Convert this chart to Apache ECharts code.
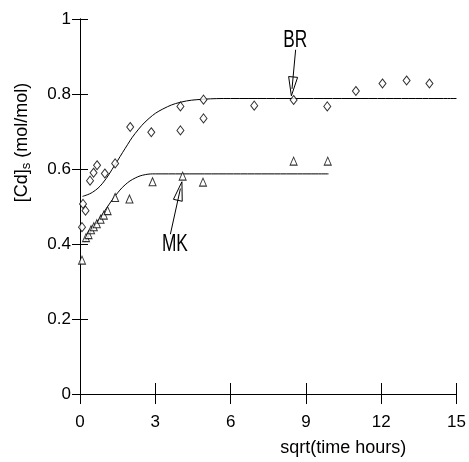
<!DOCTYPE html>
<html>
<head>
<meta charset="utf-8">
<script src="https://cdn.jsdelivr.net/npm/echarts@6/dist/echarts.min.js"></script>
<style>
html,body{margin:0;padding:0;background:#fff;}
#c{width:469px;height:462px;}
</style>
</head>
<body>
<div id="c"></div>
<script>
// ---- data ----
const xTicks = [0, 3, 6, 9, 12, 15];
const yTicks = [0, 0.2, 0.4, 0.6, 0.8, 1];

const brPoints = [
  [0.08, 0.445], [0.12, 0.507], [0.22, 0.489], [0.40, 0.569], [0.54, 0.590],
  [0.68, 0.610], [0.99, 0.588], [1.40, 0.615], [2.00, 0.712], [2.84, 0.698],
  [4.00, 0.767], [4.00, 0.703], [4.92, 0.785], [4.92, 0.735], [6.94, 0.769],
  [8.51, 0.784], [9.85, 0.767], [10.99, 0.808], [12.05, 0.828], [13.01, 0.836],
  [13.92, 0.828]
];
const mkPoints = [
  [0.08, 0.357], [0.24, 0.417], [0.34, 0.425], [0.44, 0.438], [0.55, 0.446],
  [0.67, 0.454], [0.82, 0.466], [0.95, 0.477], [1.10, 0.489], [1.40, 0.524],
  [1.97, 0.520], [2.89, 0.566], [4.09, 0.581], [4.90, 0.565], [8.51, 0.621],
  [9.87, 0.621]
];
const brCurve = [
  [0.10, 0.527], [0.50, 0.538], [0.90, 0.562], [1.40, 0.612], [1.80, 0.655],
  [2.20, 0.695], [2.75, 0.735], [3.30, 0.760], [4.00, 0.778], [4.90, 0.786],
  [6.00, 0.788], [15.0, 0.788]
];
const mkCurve = [
  [0.20, 0.405], [0.50, 0.440], [1.00, 0.490], [1.40, 0.528], [1.80, 0.558],
  [2.20, 0.576], [2.60, 0.585], [3.00, 0.587], [9.90, 0.587]
];
const labelNames = ['BR', 'MK'];
const labelAt = [[8.57, 0.942], [3.78, 0.399]];
const arrowTail = [[8.59, 0.918], [3.60, 0.426]];
const arrowTip = [[8.42, 0.795], [4.06, 0.566]];

// ---- chart ----
const FONT = "'Liberation Sans',Arial,sans-serif";
const chart = echarts.init(document.getElementById('c'), null, {renderer: 'canvas'});

const axisBase = {
  type: 'value',
  axisLine: {show: true, lineStyle: {color: '#000', width: 1}},
  splitLine: {show: false}
};

chart.setOption({
  animation: false,
  backgroundColor: '#fff',
  grid: {left: 80, right: 10, top: 19, bottom: 65},
  xAxis: [
    Object.assign({}, axisBase, {
      min: xTicks[0], max: xTicks[xTicks.length - 1], interval: 3,
      position: 'bottom',
      axisTick: {show: true, inside: false, length: 10, lineStyle: {color: '#000'}},
      axisLabel: {color: '#000', fontFamily: FONT, fontSize: 17, margin: 20},
      name: 'sqrt(time hours)', nameLocation: 'middle', nameGap: 45,
      nameTextStyle: {color: '#000', fontFamily: FONT, fontSize: 18, padding: [0, 0, 0, 150]}
    }),
    Object.assign({}, axisBase, {
      min: xTicks[0], max: xTicks[xTicks.length - 1], interval: 3,
      position: 'top',
      axisTick: {show: true, inside: false, length: 11, lineStyle: {color: '#000'}},
      axisLabel: {show: false}
    })
  ],
  yAxis: [
    Object.assign({}, axisBase, {
      min: yTicks[0], max: yTicks[yTicks.length - 1], interval: 0.2,
      position: 'left',
      axisTick: {show: true, inside: false, length: 8, lineStyle: {color: '#000'}},
      axisLabel: {color: '#000', fontFamily: FONT, fontSize: 17, margin: 9},
      name: '{a|[Cd]}{s|s}{a| (mol/mol)}', nameLocation: 'middle', nameGap: 47, nameRotate: 90,
      nameTextStyle: {
        color: '#000',
        padding: [0, 0, 0, 128],
        rich: {
          a: {fontFamily: FONT, fontSize: 18, color: '#000'},
          s: {fontFamily: FONT, fontSize: 13, color: '#000', verticalAlign: 'bottom', padding: [8, 0, 0, 0]}
        }
      }
    }),
    Object.assign({}, axisBase, {
      min: yTicks[0], max: yTicks[yTicks.length - 1], interval: 0.2,
      position: 'right',
      axisTick: {show: true, inside: false, length: 8, lineStyle: {color: '#000'}},
      axisLabel: {show: false}
    })
  ],
  series: [
    {type: 'line', data: brCurve, smooth: 0.4, showSymbol: false, symbol: 'none',
     lineStyle: {color: '#000', width: 1}, z: 2},
    {type: 'line', data: mkCurve, smooth: 0.4, showSymbol: false, symbol: 'none',
     lineStyle: {color: '#000', width: 1}, z: 2},
    {type: 'scatter', data: brPoints, symbol: 'diamond', symbolSize: [7, 9],
     itemStyle: {color: '#fff', borderColor: '#000', borderWidth: 1}, z: 3},
    {type: 'scatter', data: mkPoints, symbol: 'triangle', symbolSize: [7, 8],
     itemStyle: {color: '#fff', borderColor: '#000', borderWidth: 1}, z: 3}
  ]
});

// annotations anchored in data coordinates
const graphics = [];
for (let i = 0; i < labelNames.length; i++) {
  const lp = chart.convertToPixel({gridIndex: 0}, labelAt[i]);
  graphics.push({
    type: 'text', x: lp[0], y: lp[1], z: 10, scaleX: 0.72,
    style: {text: labelNames[i], font: "24px " + FONT, fill: '#000', align: 'center', verticalAlign: 'middle'}
  });
  const p0 = chart.convertToPixel({gridIndex: 0}, arrowTail[i]);
  const p1 = chart.convertToPixel({gridIndex: 0}, arrowTip[i]);
  const dx = p1[0] - p0[0], dy = p1[1] - p0[1];
  const len = Math.sqrt(dx * dx + dy * dy);
  const ux = dx / len, uy = dy / len, nx = -uy, ny = ux;
  const L = 19, W = 4.5;
  const bx = p1[0] - ux * L, by = p1[1] - uy * L;
  graphics.push({
    type: 'line', z: 10,
    shape: {x1: p0[0], y1: p0[1], x2: p1[0] - ux * 7, y2: p1[1] - uy * 7},
    style: {stroke: '#000', lineWidth: 1}
  });
  graphics.push({
    type: 'polygon', z: 9,
    shape: {points: [[p1[0], p1[1]], [bx + nx * W, by + ny * W], [bx - nx * W, by - ny * W]]},
    style: {stroke: '#000', fill: '#fff', lineWidth: 1}
  });
}
chart.setOption({graphic: graphics});
</script>
</body>
</html>
